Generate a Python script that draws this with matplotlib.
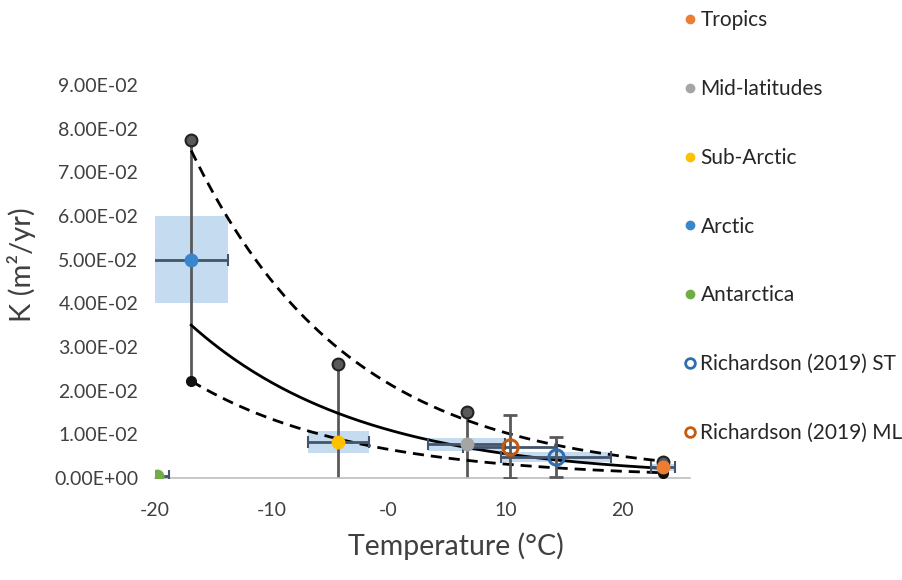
import matplotlib
matplotlib.use('Agg')
import matplotlib.pyplot as plt
from matplotlib.lines import Line2D
from matplotlib.patches import Rectangle
import numpy as np

plt.rcParams['font.family'] = ['Lato', 'DejaVu Sans']

# Regional data
regions = ['Tropics', 'Mid-latitudes', 'Sub-Arctic', 'Arctic', 'Antarctica']
colors = ['#ED7D31', '#A5A5A5', '#FFC000', '#3A86CC', '#70AD47']
temp = [23.2, 6.4, -4.6, -17.2, -20.1]
k_mean = [0.0025, 0.0077, 0.0083, 0.050, 0.0005]
temp_err = [1.0, 3.3, 2.6, 3.15, 1.0]
k_box = [0.0008, 0.0015, 0.0025, 0.010, 0.0]
k_hi = [0.0037, 0.0151, 0.0261, 0.0775, np.nan]
k_lo = [0.0012, 0.0, 0.0, 0.0222, np.nan]

# Richardson (2019)
rich_labels = ['Richardson (2019) ST', 'Richardson (2019) ML']
rich_colors = ['#2E6DB0', '#C55A11']
rich_temp = [14.05, 10.1]
rich_k = [0.0048, 0.0072]
rich_temp_err = [4.7, 4.0]
rich_k_err = [0.0046, 0.0072]
rich_k_box = [0.0012, 0.0]

# axis
x_min, x_max = -20.3, 25.5
tick_step = 10

fig = plt.figure(figsize=(9.03, 5.80), dpi=100)
ax = fig.add_axes([155/903, 1-478/580, (690-155)/903, (478-85)/580])

box_col = '#5B9BD5'
for t, k, te, kb in zip(temp + rich_temp, k_mean + rich_k,
                        temp_err + rich_temp_err, k_box + rich_k_box):
    if kb > 0:
        ax.add_patch(Rectangle((t - te, k - kb), 2*te, 2*kb, facecolor=box_col,
                               alpha=0.35, edgecolor='none', zorder=1))

# range lines with upper / lower markers
for t, hi, lo in zip(temp, k_hi, k_lo):
    if np.isnan(hi):
        continue
    ax.plot([t, t], [lo, hi], color='#595959', lw=2, zorder=2)
    ax.plot(t, hi, 'o', ms=8.5, mfc='#595959', mec='#222222', mew=1.5, zorder=6)
    if lo > 0:
        ax.plot(t, lo, 'o', ms=7, color='#111111', zorder=6)

# exponential trendlines
t_fit = np.array(temp[:4])
def exp_trend(tt, kk, style):
    tt = np.array(tt); kk = np.array(kk)
    m = kk > 0
    b, a = np.polyfit(tt[m], np.log(kk[m]), 1)
    xs = np.linspace(tt[m].min(), tt[m].max(), 200)
    ax.plot(xs, np.exp(a + b*xs), color='black', lw=2, zorder=3, **style)

exp_trend(t_fit, k_hi[:4], dict(linestyle=(0, (4, 2.5))))
exp_trend(t_fit, k_lo[:4], dict(linestyle=(0, (4, 2.5))))
exp_trend(t_fit, k_mean[:4], dict(linestyle='-'))

# Richardson error bars
for t, k, te, ke, c in zip(rich_temp, rich_k, rich_temp_err, rich_k_err, rich_colors):
    ax.errorbar(t, k, xerr=te, fmt='none', ecolor='#44546A', elinewidth=2,
                capsize=4, capthick=1.5, zorder=4)
    ax.errorbar(t, k, yerr=ke, fmt='none', ecolor='#595959', elinewidth=2,
                capsize=5, capthick=2, zorder=4)
    ax.plot(t, k, 'o', ms=11, mfc='none', mec=c, mew=2.2, zorder=7)

# regional points with horizontal error bars
for t, k, te, c in zip(temp, k_mean, temp_err, colors):
    ax.errorbar(t, k, xerr=te, fmt='none', ecolor='#44546A', elinewidth=2,
                capsize=4, capthick=1.5, zorder=4)
    ax.plot(t, k, 'o', ms=9, color=c, zorder=7)

ax.set_xlim(x_min, x_max)
ax.set_ylim(0, 0.09)
xt = np.arange(x_min, x_max, tick_step)
ax.set_xticks(xt)
ax.set_xticklabels(['{:.0f}'.format(v) for v in xt])
yt = np.arange(0, 0.0901, 0.01)
ax.set_yticks(yt)
ax.set_yticklabels(['{:.2E}'.format(v) for v in yt])
for s in ['top', 'right', 'left']:
    ax.spines[s].set_visible(False)
ax.spines['bottom'].set_color('#BFBFBF')
ax.spines['bottom'].set_linewidth(1.2)
ax.tick_params(axis='both', length=0, labelsize=14, colors='#404040')
ax.tick_params(axis='x', pad=17)
ax.tick_params(axis='y', pad=12)
ax.set_xlabel('Temperature (°C)', fontsize=20.5, color='#404040')
ax.xaxis.set_label_coords((456-155)/535, -(532-478)/393)
ax.set_ylabel('K (m²/yr)', fontsize=21, color='#404040')
ax.yaxis.set_label_coords(-(155-36)/535, (478-265)/393)

handles = [Line2D([], [], marker='o', ls='none', ms=6, color=c) for c in colors]
handles += [Line2D([], [], marker='o', ls='none', ms=7, mfc='none', mec=c, mew=2)
            for c in rich_colors]
leg = fig.legend(handles, regions + rich_labels, loc='upper left',
                 bbox_to_anchor=(675.5/903, 1-2/580), frameon=False, fontsize=15,
                 labelspacing=2.34, handletextpad=0.2, handlelength=0.6,
                 borderaxespad=0)
for txt in leg.get_texts():
    txt.set_color('#262626')

fig.savefig('out.png', dpi=100)
